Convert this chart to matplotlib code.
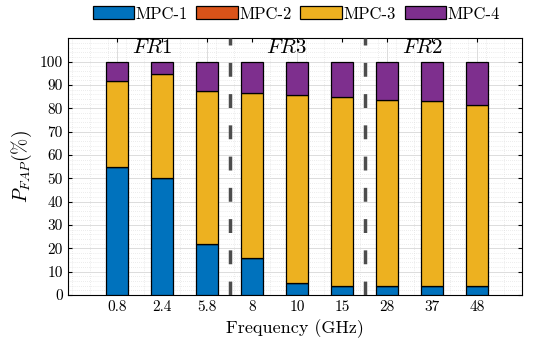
import numpy as np
import matplotlib
matplotlib.use('Agg')
import matplotlib.pyplot as plt
from matplotlib.ticker import MultipleLocator

plt.rcParams['font.family'] = 'serif'
plt.rcParams['font.serif'] = ['cmr10']
plt.rcParams['mathtext.fontset'] = 'cm'
plt.rcParams['axes.unicode_minus'] = False

freqs = ['0.8', '2.4', '5.8', '8', '10', '15', '28', '37', '48']
mpc1 = [55, 50, 22, 16, 5, 4, 4, 4, 4]
mpc2 = [0, 0, 0, 0, 0, 0, 0, 0, 0]
mpc3 = [36.5, 44.5, 65.5, 70.5, 80.5, 81, 79.5, 79, 77.5]
mpc4 = [8.5, 5.5, 12.5, 13.5, 14.5, 15, 16.5, 17, 18.5]
bands = ['$FR1$', '$FR3$', '$FR2$']

colors = ['#0072BD', '#D95319', '#EDB120', '#7E2F8E']
names = ['MPC-1', 'MPC-2', 'MPC-3', 'MPC-4']

fig = plt.figure(figsize=(5.34, 3.47), dpi=100)
ax = fig.add_axes([0.127, 0.150, 0.851, 0.740])

x = np.arange(1, len(freqs) + 1)
bottom = np.zeros(len(freqs))
for vals, c, n in zip([mpc1, mpc2, mpc3, mpc4], colors, names):
    ax.bar(x, vals, 0.5, bottom=bottom, color=c, edgecolor='black', linewidth=0.9, label=n, zorder=3)
    bottom += np.array(vals)

# band separators
for xs in [3.5, 6.5]:
    ax.plot([xs, xs], [0, 110], color='#4d4d4d', linewidth=2.5, linestyle=(0, (4, 5)), zorder=4)
for i, b in enumerate(bands):
    ax.text(2 + 3 * i - 0.23, 106, b, fontsize=15, ha='center', va='center', zorder=5)

ax.set_xlim(-0.09, 10)
ax.set_ylim(0, 110)
ax.set_xticks(x)
ax.set_xticklabels(freqs, fontsize=11)
ax.set_yticks(np.arange(0, 101, 10))
ax.tick_params(axis='y', labelsize=11)
ax.tick_params(direction='in', length=3, top=True, right=True)
ax.set_xlabel('Frequency (GHz)', fontsize=13)
ax.set_ylabel('$P_{FAP}(\\%)$', fontsize=14)

# grid: solid major, dotted minor
for gx in [1, 3, 5, 7, 9]:
    ax.axvline(gx, color='#dcdcdc', linewidth=0.7, zorder=0)
ax.xaxis.set_minor_locator(MultipleLocator(0.4))
ax.yaxis.set_minor_locator(MultipleLocator(2))
ax.tick_params(which='minor', length=0)
ax.grid(True, axis='y', which='major', color='#dcdcdc', linewidth=0.7, zorder=0)
ax.grid(True, which='minor', color='#dadada', linewidth=0.5, linestyle=(0, (1, 2)), zorder=0)
ax.set_axisbelow(True)
for s in ax.spines.values():
    s.set_linewidth(0.8)

fig.legend(loc='upper center', bbox_to_anchor=(0.555, 1.025), ncol=4, fontsize=12,
           frameon=False, handlelength=2.5, handleheight=0.8, handletextpad=0.1, columnspacing=0.5)

fig.savefig('out.png', dpi=100)
